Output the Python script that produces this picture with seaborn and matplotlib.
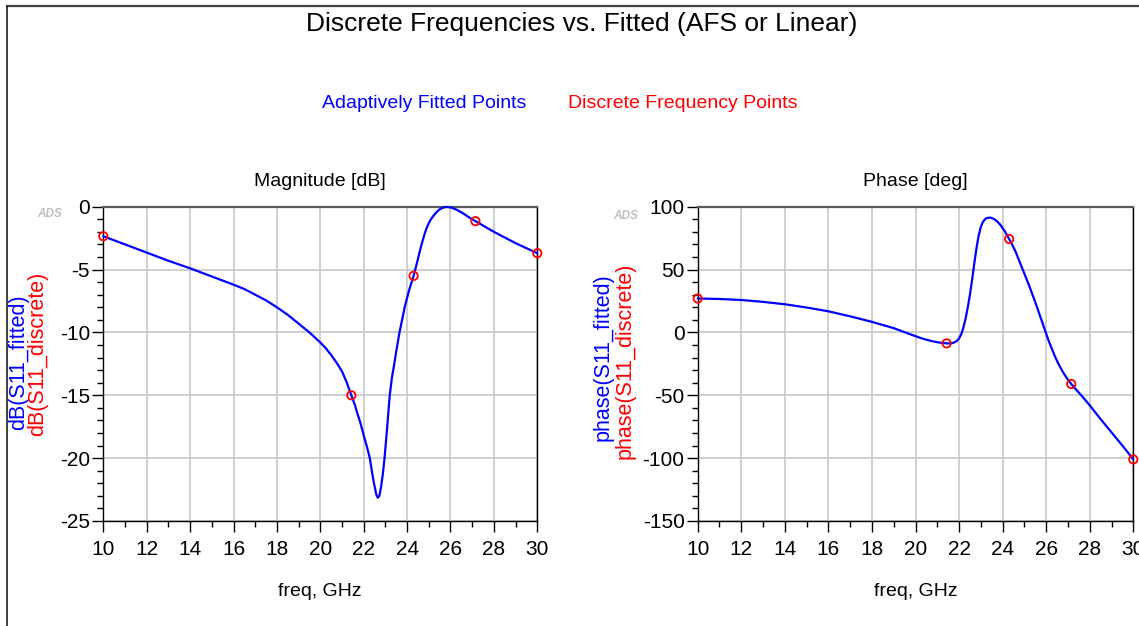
import numpy as np
import pandas as pd
import matplotlib
matplotlib.use("Agg")
import matplotlib.pyplot as plt
from matplotlib.lines import Line2D
from matplotlib.ticker import MultipleLocator
import seaborn as sns

# ---- data -------------------------------------------------------------
freq_fit_mag = [10, 11, 12, 13, 14, 15, 16, 16.5, 17, 17.5, 18, 18.5, 19, 19.25,
                19.5, 19.75, 20, 20.25, 20.5, 20.75, 21, 21.2, 21.43, 21.6, 21.7,
                21.85, 22.0, 22.15, 22.28, 22.45, 22.58, 22.65, 22.72, 22.8, 22.88,
                22.96, 23.08, 23.2, 23.3, 23.4, 23.5, 23.65, 23.9, 24.1, 24.3, 24.45,
                24.65, 24.8, 24.9, 25.0, 25.1, 25.2, 25.35, 25.5, 25.65, 25.8, 26.0,
                26.3, 26.6, 26.9, 27.15, 27.5, 28, 28.5, 29, 29.5, 30]
mag_fit = [-2.35, -3.0, -3.65, -4.3, -4.9, -5.55, -6.2, -6.55, -7.0, -7.45, -8.0,
           -8.6, -9.3, -9.65, -10.0, -10.4, -10.8, -11.25, -11.8, -12.4, -13.1,
           -13.9, -15.0, -15.8, -16.4, -17.2, -18.2, -19.1, -20.0, -21.8, -22.9,
           -23.15, -23.0, -22.3, -21.3, -20.0, -17.6, -15.0, -13.6, -12.6, -11.5,
           -10.0, -7.9, -6.6, -5.5, -4.5, -3.1, -2.2, -1.7, -1.3, -1.0, -0.75,
           -0.45, -0.2, -0.08, -0.02, -0.05, -0.25, -0.55, -0.9, -1.15, -1.5,
           -2.0, -2.45, -2.9, -3.3, -3.7]

freq_fit_ph = [10, 11, 12, 13, 14, 15, 16, 17, 18, 19, 20, 20.25, 20.5, 20.75,
               21.0, 21.2, 21.43, 21.6, 21.75, 21.9, 22.0, 22.1, 22.2, 22.3, 22.4,
               22.5, 22.6, 22.7, 22.8, 22.9, 23.0, 23.1, 23.2, 23.3, 23.45, 23.6,
               23.75, 23.9, 24.1, 24.3, 24.45, 24.6, 24.75, 24.9, 25.05, 25.2,
               25.35, 25.5, 25.65, 25.8, 25.95, 26.1, 26.25, 26.4, 26.55, 26.75,
               26.95, 27.15, 27.35, 27.6, 28, 28.5, 29, 29.5, 30]
phase_fit = [27.0, 26.6, 25.8, 24.3, 22.4, 19.8, 16.8, 12.8, 8.4, 3.4, -3.0, -4.5,
             -5.8, -6.9, -7.8, -8.3, -8.7, -8.8, -8.2, -6.8, -4.8, -1.5, 4.0, 11.0,
             20.0, 30.0, 42.0, 55.0, 67.0, 77.0, 84.0, 88.0, 90.2, 91.1, 91.3,
             90.3, 88.3, 85.5, 80.5, 74.3, 69.5, 64.0, 57.5, 51.0, 44.5, 38.0,
             31.0, 24.0, 16.5, 9.0, 1.5, -6.0, -12.5, -19.0, -24.5, -31.0, -36.5,
             -41.0, -45.0, -49.8, -58.0, -69.0, -79.5, -90.0, -101.0]

freq_disc = [10, 21.43, 24.3, 27.15, 30]
mag_disc = [-2.35, -15.0, -5.5, -1.15, -3.7]
phase_disc = [27.0, -8.7, 74.3, -41.0, -101.0]

x_ticks = list(range(10, 31, 2))
mag_ticks = [0, -5, -10, -15, -20, -25]
phase_ticks = [100, 50, 0, -50, -100, -150]

fit_mag_df = pd.DataFrame({"freq": freq_fit_mag, "val": mag_fit})
fit_ph_df = pd.DataFrame({"freq": freq_fit_ph, "val": phase_fit})
disc_mag_df = pd.DataFrame({"freq": freq_disc, "val": mag_disc})
disc_ph_df = pd.DataFrame({"freq": freq_disc, "val": phase_disc})

# ---- style ------------------------------------------------------------
sns.set_style("white")
plt.rcParams["font.family"] = ["Liberation Sans", "DejaVu Sans"]
plt.rcParams["axes.unicode_minus"] = False
plt.rcParams["text.color"] = "black"
plt.rcParams["axes.labelcolor"] = "black"
plt.rcParams["xtick.color"] = "black"
plt.rcParams["ytick.color"] = "black"

BLUE = "#0000ff"
RED = "#ff0000"
GRID = "#c6c6c6"

W, H = 1139, 626
fig = plt.figure(figsize=(W / 100, H / 100), dpi=100)


def fx(px):
    return px / W


def fy(py):
    return 1 - py / H


ax_top, ax_bot = 206.7, 521.0
ax_mag = fig.add_axes([fx(103.3), fy(ax_bot), fx(537.3 - 103.3), (ax_bot - ax_top) / H])
ax_ph = fig.add_axes([fx(697.7), fy(ax_bot), fx(1133.3 - 697.7), (ax_bot - ax_top) / H])


def style_axis(ax, yticks, ylim, yminor, title):
    ax.set_xlim(10, 30)
    ax.set_ylim(*ylim)
    ax.set_xticks(x_ticks)
    ax.set_yticks(yticks)
    ax.xaxis.set_minor_locator(MultipleLocator(1))
    ax.yaxis.set_minor_locator(MultipleLocator(yminor))
    ax.grid(True, which="major", color=GRID, linewidth=1.2)
    ax.set_axisbelow(True)
    ax.tick_params(axis="both", which="major", direction="out", length=8,
                   width=1, color="black", labelcolor="black", labelsize=15,
                   bottom=True, left=True)
    ax.tick_params(axis="x", which="major", pad=6)
    ax.tick_params(axis="y", which="major", pad=1.5)
    ax.tick_params(axis="both", which="minor", direction="out", length=4,
                   width=1, color="black", bottom=True, left=True)
    for side in ("left", "bottom", "right"):
        ax.spines[side].set_color("black")
        ax.spines[side].set_linewidth(1.0)
        ax.spines[side].set_visible(True)
    ax.spines["top"].set_color("#5a5a5a")
    ax.spines["top"].set_linewidth(1.6)
    ax.spines["top"].set_visible(True)
    ax.set_title(title, fontsize=14, pad=15, color="black")
    ax.set_xlabel("freq, GHz", fontsize=14, labelpad=17, color="black")
    ax.set_ylabel("")


for ax, fit_df, disc_df in ((ax_mag, fit_mag_df, disc_mag_df),
                            (ax_ph, fit_ph_df, disc_ph_df)):
    sns.lineplot(data=fit_df, x="freq", y="val", ax=ax, color=BLUE,
                 linewidth=1.6, sort=True, clip_on=False, zorder=3)
    sns.scatterplot(data=disc_df, x="freq", y="val", ax=ax, marker="o", s=36,
                    facecolors="none", edgecolors=RED, linewidth=1.3,
                    clip_on=False, zorder=4)

style_axis(ax_mag, mag_ticks, (-25, 0), 1, "Magnitude [dB]")
style_axis(ax_ph, phase_ticks, (-150, 100), 10, "Phase [deg]")

# ---- figure-level text ------------------------------------------------
fig.text(fx(582), fy(24), "Discrete Frequencies vs. Fitted (AFS or Linear)",
         ha="center", va="center", fontsize=19, color="black")
fig.text(fx(424), fy(103), "Adaptively Fitted Points", ha="center", va="center",
         fontsize=14, color=BLUE)
fig.text(fx(683), fy(103), "Discrete Frequency Points", ha="center", va="center",
         fontsize=14, color=RED)

# stacked y-axis labels
fig.text(fx(19), fy(362), "dB(S11_fitted)", rotation=90, ha="center",
         va="center", fontsize=15.5, color=BLUE)
fig.text(fx(38), fy(354), "dB(S11_discrete)", rotation=90, ha="center",
         va="center", fontsize=15.5, color=RED)
fig.text(fx(603), fy(357), "phase(S11_fitted)", rotation=90, ha="center",
         va="center", fontsize=15.5, color=BLUE)
fig.text(fx(625), fy(361), "phase(S11_discrete)", rotation=90, ha="center",
         va="center", fontsize=15.5, color=RED)

# small tool badges beside each plot
for bx, by in ((50, 214), (626, 216)):
    fig.text(fx(bx), fy(by), "ADS", ha="center", va="center", fontsize=8.5,
             fontweight="bold", fontstyle="italic", color="#b8b8b8", alpha=0.9)

# outer frame (top and left edges)
fig.add_artist(Line2D([fx(7), 1.0], [fy(6), fy(6)], color="#404040",
                      linewidth=1.6, transform=fig.transFigure))
fig.add_artist(Line2D([fx(7), fx(7)], [fy(6), 0.0], color="#202020",
                      linewidth=1.2, transform=fig.transFigure))

fig.savefig("out.png", dpi=100)
